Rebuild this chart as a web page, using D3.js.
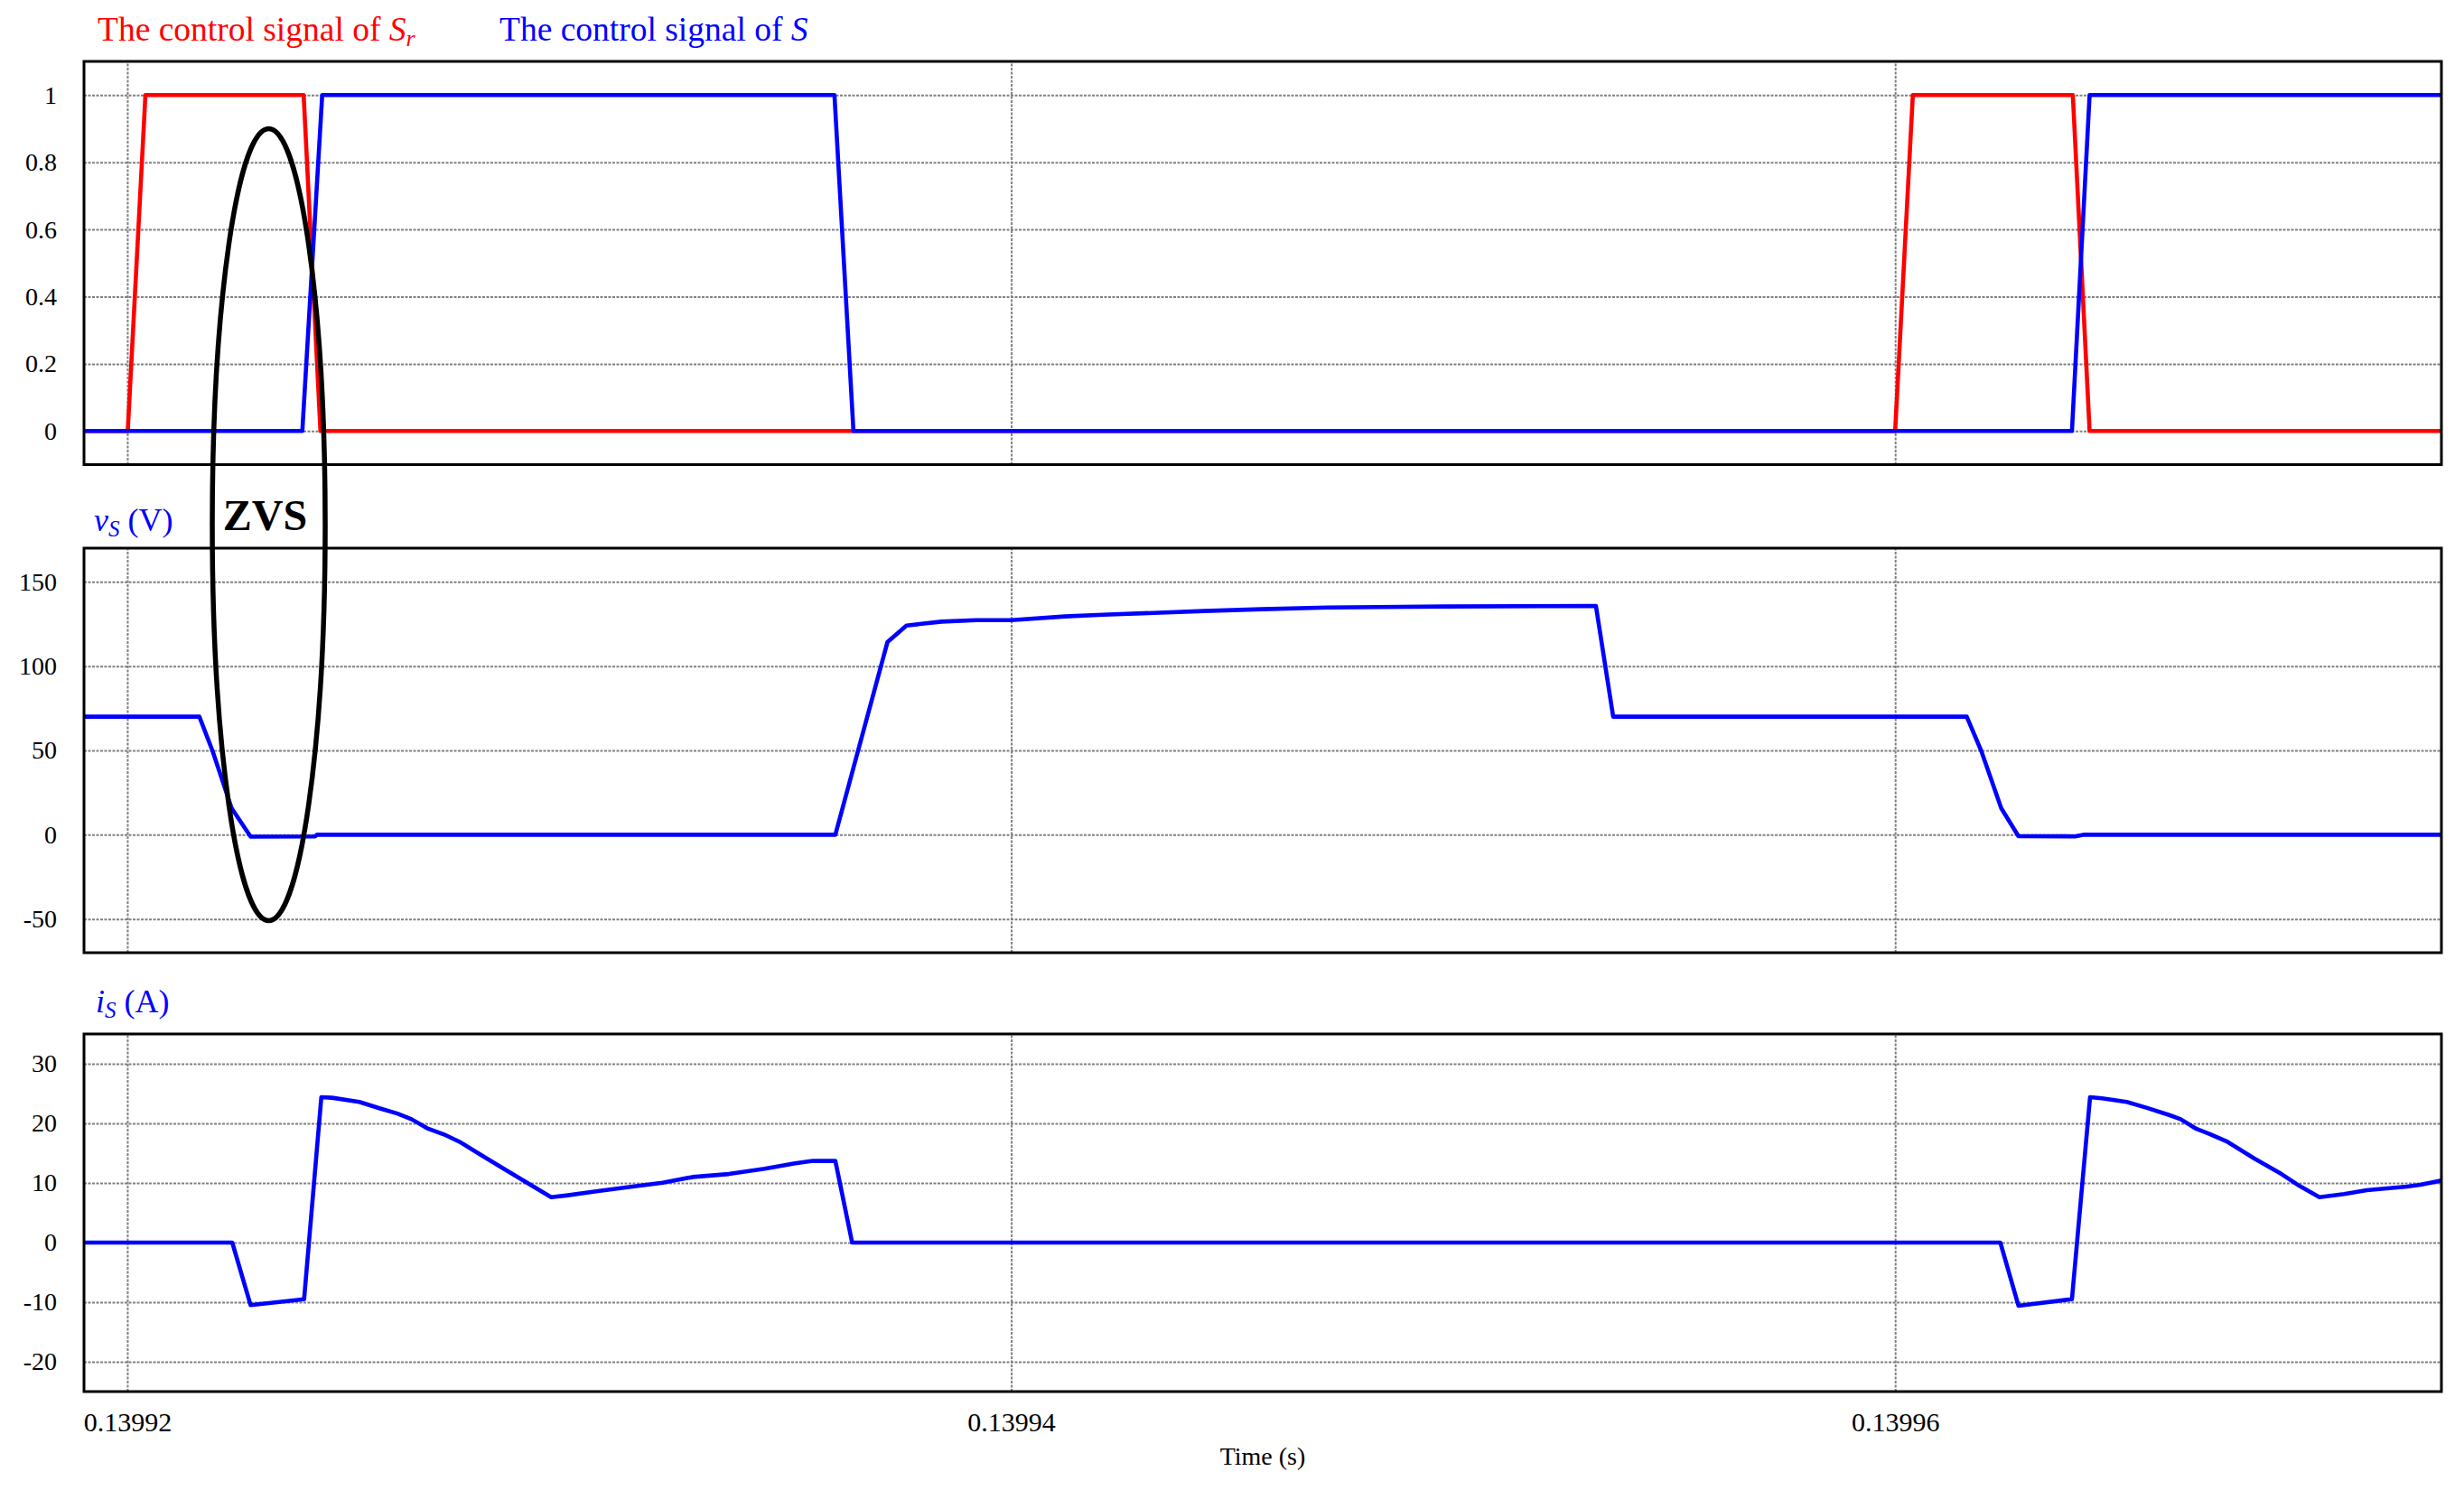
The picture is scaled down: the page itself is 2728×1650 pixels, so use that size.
<!DOCTYPE html>
<html><head><meta charset="utf-8">
<script src="https://cdn.jsdelivr.net/npm/d3@7"></script>
<style>
body{margin:0;background:#fff}
svg{display:block}
text{font-family:"Liberation Serif","Times New Roman",serif}
</style>
</head><body>
<svg id="c" width="2728" height="1650"></svg>
<script>
// ---------- data (time in seconds) ----------
const xTicks = [0.13992, 0.13994, 0.13996];
const xTickLabels = ["0.13992", "0.13994", "0.13996"];
const xDomain = [0.13991902, 0.13997236];

const sigTicks = [0, 0.2, 0.4, 0.6, 0.8, 1];
const sigTickLabels = ["0", "0.2", "0.4", "0.6", "0.8", "1"];
const vTicks = [-50, 0, 50, 100, 150];
const vTickLabels = ["-50", "0", "50", "100", "150"];
const iTicks = [-20, -10, 0, 10, 20, 30];
const iTickLabels = ["-20", "-10", "0", "10", "20", "30"];

// control signal of Sr
const srTime  = [0.13991902, 0.13992001, 0.13992041, 0.13992399, 0.13992437, 0.13996000, 0.13996040, 0.13996402, 0.13996440, 0.13997236];
const srValue = [0, 0, 1, 1, 0, 0, 1, 1, 0, 0];

// control signal of S
const sTime  = [0.13991902, 0.13992396, 0.13992441, 0.13993600, 0.13993643, 0.13996400, 0.13996440, 0.13997236];
const sValue = [0, 0, 1, 1, 0, 0, 1, 1];

// vS (V)
const vTime = [0.13991902, 0.13992163, 0.13992193, 0.13992236, 0.13992279, 0.13992425, 0.13992429,
  0.13993602, 0.13993720, 0.13993763, 0.13993842, 0.13993921, 0.13994000, 0.13994121, 0.13994207,
  0.13994322, 0.13994436, 0.13994566, 0.13994716, 0.13994982, 0.13995323, 0.13995362,
  0.13996162, 0.13996195, 0.13996240, 0.13996279, 0.13996407, 0.13996428, 0.13997236];
const vValue = [70, 70, 49.6, 15.7, -1.2, -1.0, 0,
  0, 114.3, 124.1, 126.4, 127.3, 127.3, 129.5, 130.5,
  131.6, 132.7, 133.75, 134.8, 135.4, 135.7, 70,
  70, 49.6, 15.7, -0.9, -1.0, 0, 0];

// iS (A)
const iTime = [0.13991902, 0.139922375, 0.13992279, 0.13992400, 0.13992439, 0.13992463, 0.13992525,
  0.13992572, 0.13992611, 0.13992643, 0.13992678, 0.13992721, 0.13992752, 0.13992807, 0.13992856,
  0.13992959, 0.13992993, 0.13993061, 0.13993143, 0.13993211, 0.13993279, 0.13993361, 0.13993442,
  0.13993511, 0.13993551, 0.13993602, 0.13993640,
  0.13996238, 0.13996279, 0.13996400, 0.13996441, 0.13996468, 0.13996524, 0.13996570, 0.13996620,
  0.13996646, 0.13996681, 0.13996712, 0.13996752, 0.13996813, 0.13996874, 0.13996915, 0.13996960,
  0.13997016, 0.13997067, 0.13997158, 0.13997188, 0.13997236];
const iValue = [0, 0, -10.5, -9.5, 24.4, 24.3, 23.6,
  22.5, 21.65, 20.7, 19.2, 18.0, 16.9, 14.4, 12.2,
  7.6, 7.9, 8.6, 9.4, 10.05, 11.0, 11.5, 12.4,
  13.3, 13.7, 13.7, 0,
  0, -10.6, -9.5, 24.4, 24.2, 23.6, 22.6, 21.4,
  20.7, 19.1, 18.2, 16.9, 14.1, 11.5, 9.5, 7.6,
  8.15, 8.8, 9.4, 9.7, 10.4];

// ---------- layout ----------
const L = 93, R = 2703;
const RED = "#ff0000", BLUE = "#0000ff";
const FONT = '"Liberation Serif","Times New Roman",serif';
const svg = d3.select("#c");

const x = d3.scaleLinear().domain(xDomain).range([L, R]);

const panels = [
  {top: 68,   bottom: 514.5, domain: [-0.1, 1.1], ticks: sigTicks, labels: sigTickLabels},
  {top: 607,  bottom: 1055,  domain: [-70, 170],  ticks: vTicks,   labels: vTickLabels},
  {top: 1145, bottom: 1541,  domain: [-25, 35],   ticks: iTicks,   labels: iTickLabels}
];
panels.forEach(p => { p.y = d3.scaleLinear().domain(p.domain).range([p.bottom, p.top]); });

const defs = svg.append("defs");

panels.forEach((p, k) => {
  const g = svg.append("g");
  defs.append("clipPath").attr("id", "clip" + k)
    .append("rect").attr("x", L).attr("y", p.top).attr("width", R - L).attr("height", p.bottom - p.top);

  // horizontal grid
  const hg = g.append("g").attr("transform", `translate(${L},0)`)
    .call(d3.axisLeft(p.y).tickValues(p.ticks).tickSize(-(R - L)).tickFormat(""));
  hg.select(".domain").remove();
  hg.selectAll("line").attr("stroke", "#808080").attr("stroke-width", 2).attr("stroke-dasharray", "3,1.5");

  // vertical grid
  const vg = g.append("g").attr("transform", `translate(0,${p.bottom})`)
    .call(d3.axisBottom(x).tickValues(xTicks).tickSize(-(p.bottom - p.top)).tickFormat(""));
  vg.select(".domain").remove();
  vg.selectAll("line").attr("stroke", "#808080").attr("stroke-width", 2).attr("stroke-dasharray", "3,1.5");

  // y tick labels
  const ya = g.append("g").attr("transform", `translate(${L},0)`)
    .call(d3.axisLeft(p.y).tickValues(p.ticks).tickSize(0).tickPadding(30)
      .tickFormat((d, i) => p.labels[i]));
  ya.select(".domain").remove();
  ya.selectAll("text").attr("font-size", 28).attr("fill", "#000").attr("font-family", FONT);
});

function drawLine(k, tArr, vArr, color) {
  const p = panels[k];
  const pts = tArr.map((t, i) => [t, vArr[i]]);
  svg.append("path").datum(pts)
    .attr("clip-path", `url(#clip${k})`)
    .attr("fill", "none").attr("stroke", color).attr("stroke-width", 4.6)
    .attr("stroke-linejoin", "round")
    .attr("d", d3.line().x(d => x(d[0])).y(d => p.y(d[1])));
}
drawLine(0, srTime, srValue, RED);
drawLine(0, sTime, sValue, BLUE);
drawLine(1, vTime, vValue, BLUE);
drawLine(2, iTime, iValue, BLUE);

// borders
panels.forEach(p => {
  svg.append("rect").attr("x", L).attr("y", p.top).attr("width", R - L).attr("height", p.bottom - p.top)
    .attr("fill", "none").attr("stroke", "#000").attr("stroke-width", 3);
});

// x tick labels
const xa = svg.append("g").attr("transform", `translate(0,${panels[2].bottom})`)
  .call(d3.axisBottom(x).tickValues(xTicks).tickSize(0).tickPadding(23)
    .tickFormat((d, i) => xTickLabels[i]));
xa.select(".domain").remove();
xa.selectAll("text").attr("font-size", 30).attr("fill", "#000").attr("font-family", FONT);

svg.append("text").attr("x", (L + R) / 2).attr("y", 1622).attr("text-anchor", "middle")
  .attr("font-size", 28).text("Time (s)");

// titles
const t1 = svg.append("text").attr("x", 108).attr("y", 45).attr("fill", RED).attr("font-size", 37.5);
t1.append("tspan").text("The control signal of ");
t1.append("tspan").attr("font-style", "italic").text("S");
t1.append("tspan").attr("font-style", "italic").attr("font-size", 26).attr("dy", 6).text("r");

const t2 = svg.append("text").attr("x", 553).attr("y", 45).attr("fill", BLUE).attr("font-size", 37.5);
t2.append("tspan").text("The control signal of ");
t2.append("tspan").attr("font-style", "italic").text("S");

const t3 = svg.append("text").attr("x", 104).attr("y", 588).attr("fill", BLUE).attr("font-size", 36);
t3.append("tspan").attr("font-style", "italic").text("v");
t3.append("tspan").attr("font-style", "italic").attr("font-size", 25).attr("dy", 6).text("S");
t3.append("tspan").attr("dy", -6).attr("dx", 9).text("(V)");

const t4 = svg.append("text").attr("x", 106).attr("y", 1121).attr("fill", BLUE).attr("font-size", 36);
t4.append("tspan").attr("font-style", "italic").text("i");
t4.append("tspan").attr("font-style", "italic").attr("font-size", 25).attr("dy", 6).text("S");
t4.append("tspan").attr("dy", -6).text(" (A)");

// ZVS annotation
const eTop = panels[0].y(0.9), eBot = panels[1].y(-51);
const ecx = x(0.1399232);
svg.append("ellipse").attr("cx", ecx).attr("cy", (eTop + eBot) / 2)
  .attr("rx", 62.5).attr("ry", (eBot - eTop) / 2)
  .attr("fill", "none").attr("stroke", "#000").attr("stroke-width", 5.5);
svg.append("text").attr("x", ecx - 4).attr("y", 587).attr("text-anchor", "middle")
  .attr("font-size", 48).attr("font-weight", "bold").text("ZVS");
</script>
</body></html>
